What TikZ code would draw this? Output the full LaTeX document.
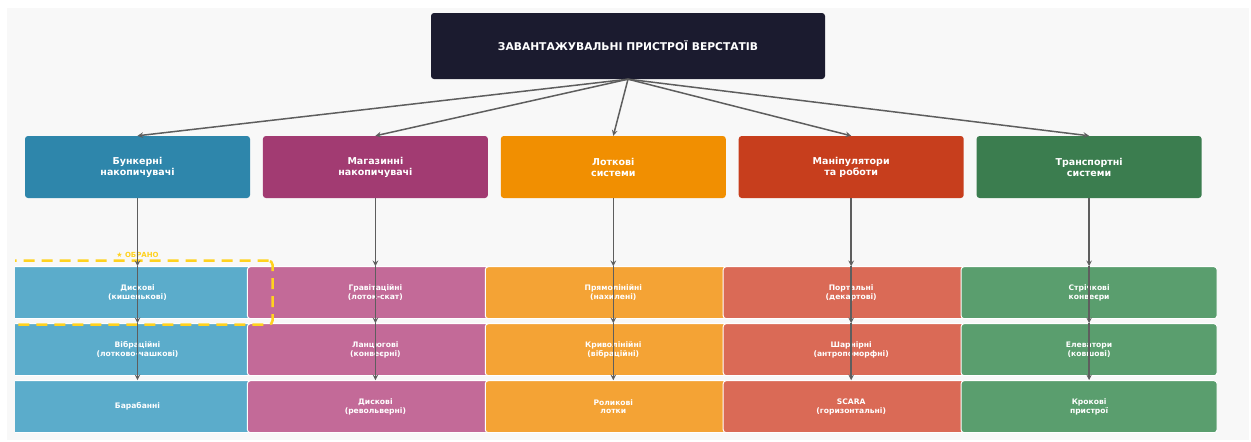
\documentclass[tikz,border=0pt]{standalone}
\usepackage{fontspec}
\setmainfont{DejaVu Sans}
\usepackage{xcolor}
\usepackage{tikz}
\usetikzlibrary{arrows, positioning, fit}
\definecolor{pagegray}{HTML}{F8F8F8}
\definecolor{rootnavy}{HTML}{1B1B2F}
\definecolor{bunkerblue}{HTML}{2E86AB}
\definecolor{magazinepink}{HTML}{A23B72}
\definecolor{trayorange}{HTML}{F18F01}
\definecolor{maniprust}{HTML}{C73E1D}
\definecolor{transportgreen}{HTML}{3B7D4F}
\definecolor{bunkerlight}{HTML}{5BACCB}
\definecolor{magazinelight}{HTML}{C36A98}
\definecolor{traylight}{HTML}{F4A335}
\definecolor{maniplight}{HTML}{DA6A56}
\definecolor{transportlight}{HTML}{5A9E6E}
\definecolor{arrowgray}{HTML}{5E5E5E}
\definecolor{pickgold}{HTML}{FFD21F}
\tikzstyle{root} = [rectangle, rounded corners=3pt, minimum width=394pt, minimum height=66pt, text centered, fill=rootnavy, text=white, font=\bfseries\fontsize{10.7}{12}\selectfont]
\tikzstyle{category} = [rectangle, rounded corners=3pt, minimum width=225pt, minimum height=62pt, align=center, text=white, font=\bfseries\fontsize{9.5}{11}\selectfont]
\tikzstyle{variant} = [rectangle, rounded corners=3pt, minimum width=256pt, minimum height=52pt, align=center, draw=white, line width=1pt, text=white, font=\bfseries\fontsize{7.6}{8.8}\selectfont]
\tikzstyle{arrow} = [line width=1.5pt, draw=arrowgray, ->, >=stealth]

\begin{document}
\begin{tikzpicture}[x=1pt, y=-1pt]
    \useasboundingbox (0,0) rectangle (1251,442);
    \fill [pagegray] (7,8) rectangle (1249,440);

    % Root box
    \node (loaders) [root] at (628,46) {ЗАВАНТАЖУВАЛЬНІ ПРИСТРОЇ ВЕРСТАТІВ};

    % Categories
    \node (bunker) [category, fill=bunkerblue] at (137.5,167) {Бункерні\\накопичувачі};
    \node (magazine) [category, right=12.5pt of bunker, fill=magazinepink] {Магазинні\\накопичувачі};
    \node (tray) [category, right=12.5pt of magazine, fill=trayorange] {Лоткові\\системи};
    \node (manip) [category, right=12.5pt of tray, fill=maniprust] {Маніпулятори\\та роботи};
    \node (transport) [category, right=12.5pt of manip, fill=transportgreen] {Транспортні\\системи};

    \begin{scope}
    \clip (15,0) rectangle (1251,442);
    % Variants under each category
    \node (bunker1) [variant, below=68pt of bunker, fill=bunkerlight] {Дискові\\(кишенькові)};
    \node (bunker2) [variant, below=4pt of bunker1, fill=bunkerlight] {Вібраційні\\(лотково-чашкові)};
    \node (bunker3) [variant, below=4pt of bunker2, fill=bunkerlight] {Барабанні};
    \node (magazine1) [variant, below=68pt of magazine, fill=magazinelight] {Гравітаційні\\(лоток-скат)};
    \node (magazine2) [variant, below=4pt of magazine1, fill=magazinelight] {Ланцюгові\\(конвеєрні)};
    \node (magazine3) [variant, below=4pt of magazine2, fill=magazinelight] {Дискові\\(револьверні)};
    \node (tray1) [variant, below=68pt of tray, fill=traylight] {Прямолінійні\\(нахилені)};
    \node (tray2) [variant, below=4pt of tray1, fill=traylight] {Криволінійні\\(вібраційні)};
    \node (tray3) [variant, below=4pt of tray2, fill=traylight] {Роликові\\лотки};
    \node (manip1) [variant, below=68pt of manip, fill=maniplight] {Портальні\\(декартові)};
    \node (manip2) [variant, below=4pt of manip1, fill=maniplight] {Шарнірні\\(антропоморфні)};
    \node (manip3) [variant, below=4pt of manip2, fill=maniplight] {SCARA\\(горизонтальні)};
    \node (transport1) [variant, below=68pt of transport, fill=transportlight] {Стрічкові\\конвеєри};
    \node (transport2) [variant, below=4pt of transport1, fill=transportlight] {Елеватори\\(ковшові)};
    \node (transport3) [variant, below=4pt of transport2, fill=transportlight] {Крокові\\пристрої};

    % Chosen variant
    \node (pick) [fit=(bunker1), inner xsep=6.5pt, inner ysep=5.5pt, draw=pickgold, line width=2.5pt, dash pattern=on 11pt off 7pt, rounded corners=4pt] {};
    \end{scope}
    \node (picklabel) [above=1pt of pick.north, inner sep=1pt, text=pickgold, font=\bfseries\fontsize{7}{8}\selectfont] {★ ОБРАНО};

    % Arrows
    \draw [arrow] (loaders.south) -- (bunker.north);
    \draw [arrow] (loaders.south) -- (magazine.north);
    \draw [arrow] (loaders.south) -- (tray.north);
    \draw [arrow] (loaders.south) -- (manip.north);
    \draw [arrow] (loaders.south) -- (transport.north);
    \draw [arrow] (bunker.south) -- (bunker1.north);
    \draw [arrow] (bunker1.north) -- (bunker2.north);
    \draw [arrow] (bunker2.north) -- (bunker3.north);
    \draw [arrow] (magazine.south) -- (magazine1.north);
    \draw [arrow] (magazine1.north) -- (magazine2.north);
    \draw [arrow] (magazine2.north) -- (magazine3.north);
    \draw [arrow] (tray.south) -- (tray1.north);
    \draw [arrow] (tray1.north) -- (tray2.north);
    \draw [arrow] (tray2.north) -- (tray3.north);
    \draw [arrow] (manip.south) -- (manip1.north);
    \draw [arrow] (manip1.north) -- (manip2.north);
    \draw [arrow] (manip2.north) -- (manip3.north);
    \draw [arrow] (transport.south) -- (transport1.north);
    \draw [arrow] (transport1.north) -- (transport2.north);
    \draw [arrow] (transport2.north) -- (transport3.north);
\end{tikzpicture}
\end{document}
